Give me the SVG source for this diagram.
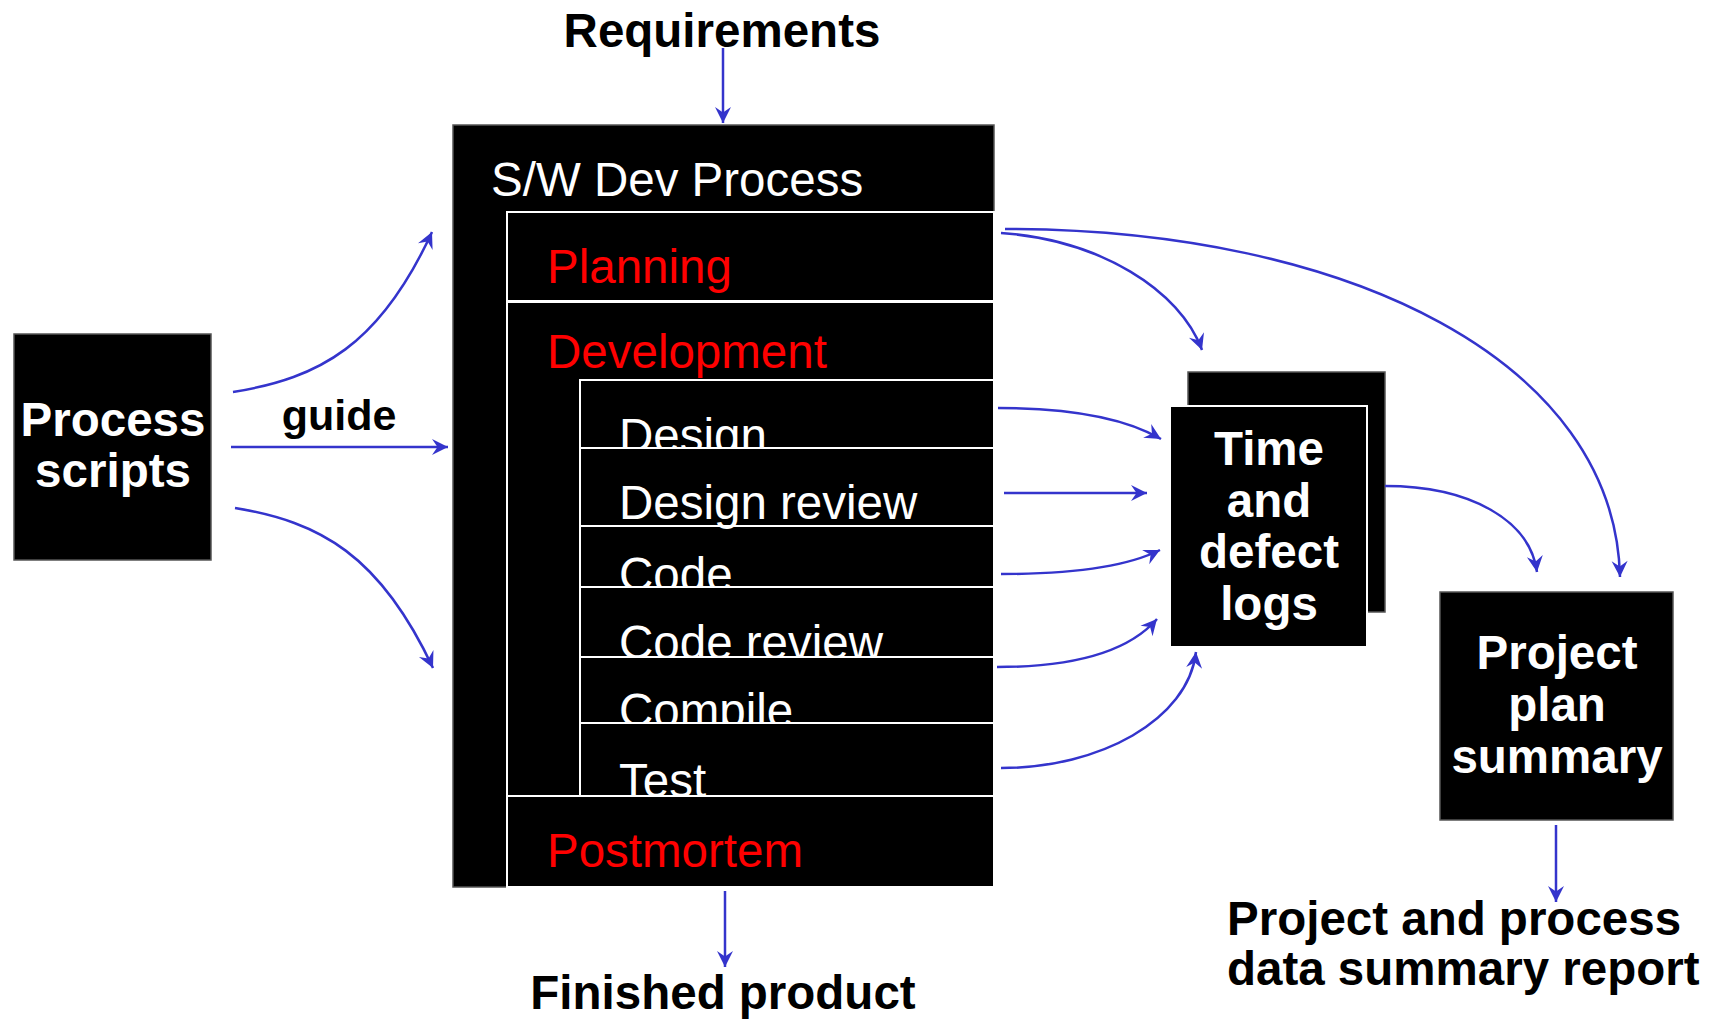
<svg xmlns="http://www.w3.org/2000/svg" width="1712" height="1019" viewBox="0 0 1712 1019">
<defs>
<style>
.bg{fill:#ffffff}
.box{fill:#000000;stroke:#555555;stroke-width:1.5}
.row{fill:#000000;stroke:#ffffff;stroke-width:2}
.t{font-family:"Liberation Sans",Arial,sans-serif;font-size:47.5px}
.tb{font-family:"Liberation Sans",Arial,sans-serif;font-size:47.5px;font-weight:bold}
.w{fill:#ffffff}
.r{fill:#ff0000}
.k{fill:#000000}
.c{fill:none;stroke:#3434cc;stroke-width:2.5;marker-end:url(#ah)}
</style>
<marker id="ah" viewBox="-18 -10 20 20" markerWidth="20" markerHeight="20" refX="0" refY="0" orient="auto" markerUnits="userSpaceOnUse">
<path d="M0,0 L-16,-8 L-10.5,0 L-16,8 Z" fill="#3434cc"/>
</marker>
</defs>
<rect class="bg" x="0" y="0" width="1712" height="1019"/>

<g id="requirements">
<text class="tb k" x="722" y="47" text-anchor="middle">Requirements</text>
</g>

<g id="process-scripts">
<rect class="box" x="14" y="334" width="197" height="226"/>
<text class="tb w" x="113" y="436" text-anchor="middle">Process</text>
<text class="tb w" x="113" y="487" text-anchor="middle">scripts</text>
</g>

<g id="sw-dev-process">
<rect class="box" x="453" y="125" width="541" height="762"/>
<text class="t w" x="491" y="196">S/W Dev Process</text>
<g id="planning">
<rect class="row" x="507" y="212" width="487" height="89"/>
<text class="t r" x="547" y="283">Planning</text>
</g>
<g id="development">
<rect class="row" x="507" y="302" width="487" height="494"/>
<text class="t r" x="547" y="368">Development</text>
<g id="design">
<rect class="row" x="580" y="380" width="414" height="68"/>
<text class="t w" x="619" y="452">Design</text>
</g>
<g id="design-review">
<rect class="row" x="580" y="448" width="414" height="78"/>
</g>
<g id="code">
<rect class="row" x="580" y="526" width="414" height="61"/>
<text class="t w" x="619" y="519">Design review</text>
<text class="t w" x="619" y="591">Code</text>
</g>
<g id="code-review">
<rect class="row" x="580" y="587" width="414" height="70"/>
<text class="t w" x="619" y="659">Code review</text>
</g>
<g id="compile">
<rect class="row" x="580" y="657" width="414" height="66"/>
<text class="t w" x="619" y="727">Compile</text>
</g>
<g id="test">
<rect class="row" x="580" y="723" width="414" height="73"/>
<text class="t w" x="619" y="797">Test</text>
</g>
</g>
<g id="postmortem">
<rect class="row" x="507" y="796" width="487" height="91"/>
<text class="t r" x="547" y="867">Postmortem</text>
</g>
</g>

<g id="time-defect-logs">
<rect class="box" x="1188" y="372" width="197" height="240"/>
<rect class="row" x="1170" y="406" width="197" height="241"/>
<text class="tb w" x="1269" y="465" text-anchor="middle">Time</text>
<text class="tb w" x="1269" y="517" text-anchor="middle">and</text>
<text class="tb w" x="1269" y="568" text-anchor="middle">defect</text>
<text class="tb w" x="1269" y="620" text-anchor="middle">logs</text>
</g>

<g id="project-plan-summary">
<rect class="box" x="1440" y="592" width="233" height="228"/>
<text class="tb w" x="1557" y="669" text-anchor="middle">Project</text>
<text class="tb w" x="1557" y="721" text-anchor="middle">plan</text>
<text class="tb w" x="1557" y="773" text-anchor="middle">summary</text>
</g>

<g id="finished-product">
<text class="tb k" x="723" y="1009" text-anchor="middle">Finished product</text>
</g>

<g id="summary-report">
<text class="tb k" x="1227" y="935">Project and process</text>
<text class="tb k" x="1227" y="985">data summary report</text>
</g>

<g id="connectors">
<path class="c" d="M723,48 L723,123"/>
<path class="c" d="M725,891 L725,967"/>
<path class="c" d="M1556,825 L1556,902"/>
<path class="c" d="M233,392 C320,378 380,345 432,232"/>
<path class="c" d="M231,447 L448,447"/>
<text class="tb k" x="339" y="430" text-anchor="middle" style="font-size:43px">guide</text>
<path class="c" d="M235,508 C320,522 380,555 433,668"/>
<path class="c" d="M1001,233 C1100,240 1180,290 1202,350"/>
<path class="c" d="M1005,229 C1350,229 1615,362 1620,577"/>
<path class="c" d="M998,408 C1070,408 1125,418 1161,439"/>
<path class="c" d="M1004,493 L1147,493"/>
<path class="c" d="M1001,574 C1080,574 1130,565 1160,550"/>
<path class="c" d="M997,667 C1080,667 1130,650 1157,619"/>
<path class="c" d="M1001,768 C1100,768 1188,720 1196,652"/>
<path class="c" d="M1385,486 C1470,486 1530,520 1537,572"/>
</g>
</svg>
